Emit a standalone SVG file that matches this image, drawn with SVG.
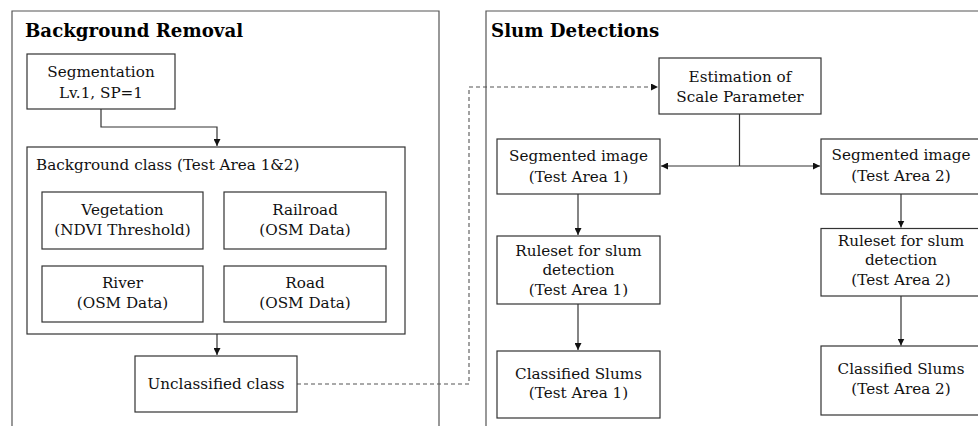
<svg xmlns="http://www.w3.org/2000/svg" width="978" height="426" viewBox="0 0 978 426">
<defs>
<style>
.panel{fill:none;stroke:#555;stroke-width:1.2}
.box{fill:#fff;stroke:#333;stroke-width:1.2}
.t{font-family:"DejaVu Serif","Liberation Serif",serif;font-size:15.2px;fill:#111;text-anchor:middle}
.tl{font-family:"DejaVu Serif","Liberation Serif",serif;font-size:15.2px;fill:#111}
.title{font-family:"DejaVu Serif","Liberation Serif",serif;font-size:18.2px;font-weight:bold;fill:#000}
.ln{fill:none;stroke:#333;stroke-width:1.2}
.dash{fill:none;stroke:#555;stroke-width:1.1;stroke-dasharray:4,3}
</style>
<marker id="ah" viewBox="0 0 10 10" refX="10" refY="5" markerWidth="7" markerHeight="7" markerUnits="userSpaceOnUse" orient="auto">
<path d="M0,0 L10,5 L0,10 z" fill="#111"/>
</marker>
</defs>
<rect width="978" height="426" fill="#fff"/>

<g id="panel-background">
<path class="panel" d="M12,430 V11 H439 V430"/>
<text class="title" x="25" y="37">Background Removal</text>
</g>
<g id="panel-slum">
<path class="panel" d="M486,430 V11 H985"/>
<text class="title" x="491" y="37">Slum Detections</text>
</g>

<g id="connectors">
<path class="ln" d="M101,109 V127 H217 V146" marker-end="url(#ah)"/>
<path class="ln" d="M217,334 V355" marker-end="url(#ah)"/>
<path class="dash" d="M297,384 H469 V87 H658" marker-end="url(#ah)"/>
<path class="ln" d="M739.5,114 V166"/>
<path class="ln" d="M739.5,166 H661" marker-end="url(#ah)"/>
<path class="ln" d="M739.5,166 H820" marker-end="url(#ah)"/>
<path class="ln" d="M578,194 V235" marker-end="url(#ah)"/>
<path class="ln" d="M578,304 V350" marker-end="url(#ah)"/>
<path class="ln" d="M901,194 V227.5" marker-end="url(#ah)"/>
<path class="ln" d="M901,296 V345.5" marker-end="url(#ah)"/>
</g>

<g id="segmentation">
<rect class="box" x="27" y="54" width="148" height="55"/>
<text class="t" x="101" y="77">Segmentation</text>
<text class="t" x="101" y="98">Lv.1, SP=1</text>
</g>
<g id="background-class">
<rect class="box" x="27" y="147" width="378" height="187"/>
<text class="tl" x="36" y="170">Background class (Test Area 1&amp;2)</text>
</g>
<g id="vegetation">
<rect class="box" x="42" y="192" width="161" height="57"/>
<text class="t" x="122.5" y="215">Vegetation</text>
<text class="t" x="122.5" y="235">(NDVI Threshold)</text>
</g>
<g id="railroad">
<rect class="box" x="224" y="192" width="162" height="57"/>
<text class="t" x="305" y="215">Railroad</text>
<text class="t" x="305" y="235">(OSM Data)</text>
</g>
<g id="river">
<rect class="box" x="42" y="266" width="161" height="56"/>
<text class="t" x="122.5" y="288">River</text>
<text class="t" x="122.5" y="308">(OSM Data)</text>
</g>
<g id="road">
<rect class="box" x="224" y="266" width="162" height="56"/>
<text class="t" x="305" y="288">Road</text>
<text class="t" x="305" y="308">(OSM Data)</text>
</g>
<g id="unclassified">
<rect class="box" x="135" y="356" width="162" height="56"/>
<text class="t" x="216" y="389">Unclassified class</text>
</g>

<g id="estimation">
<rect class="box" x="659" y="58" width="162" height="56"/>
<text class="t" x="740" y="82">Estimation of</text>
<text class="t" x="740" y="102">Scale Parameter</text>
</g>
<g id="segmented-1">
<rect class="box" x="497" y="139" width="163" height="55"/>
<text class="t" x="578.5" y="161">Segmented image</text>
<text class="t" x="578.5" y="182">(Test Area 1)</text>
</g>
<g id="segmented-2">
<rect class="box" x="821" y="139" width="163" height="55"/>
<text class="t" x="901" y="160">Segmented image</text>
<text class="t" x="901" y="181">(Test Area 2)</text>
</g>
<g id="ruleset-1">
<rect class="box" x="497" y="236" width="163" height="68"/>
<text class="t" x="578.5" y="256">Ruleset for slum</text>
<text class="t" x="578.5" y="275">detection</text>
<text class="t" x="578.5" y="295">(Test Area 1)</text>
</g>
<g id="ruleset-2">
<rect class="box" x="821" y="228.5" width="163" height="67.5"/>
<text class="t" x="901" y="246">Ruleset for slum</text>
<text class="t" x="901" y="265">detection</text>
<text class="t" x="901" y="285">(Test Area 2)</text>
</g>
<g id="classified-1">
<rect class="box" x="497" y="351" width="163" height="67"/>
<text class="t" x="578.5" y="379">Classified Slums</text>
<text class="t" x="578.5" y="398">(Test Area 1)</text>
</g>
<g id="classified-2">
<rect class="box" x="821" y="346" width="163" height="69"/>
<text class="t" x="901" y="374">Classified Slums</text>
<text class="t" x="901" y="394">(Test Area 2)</text>
</g>
</svg>
